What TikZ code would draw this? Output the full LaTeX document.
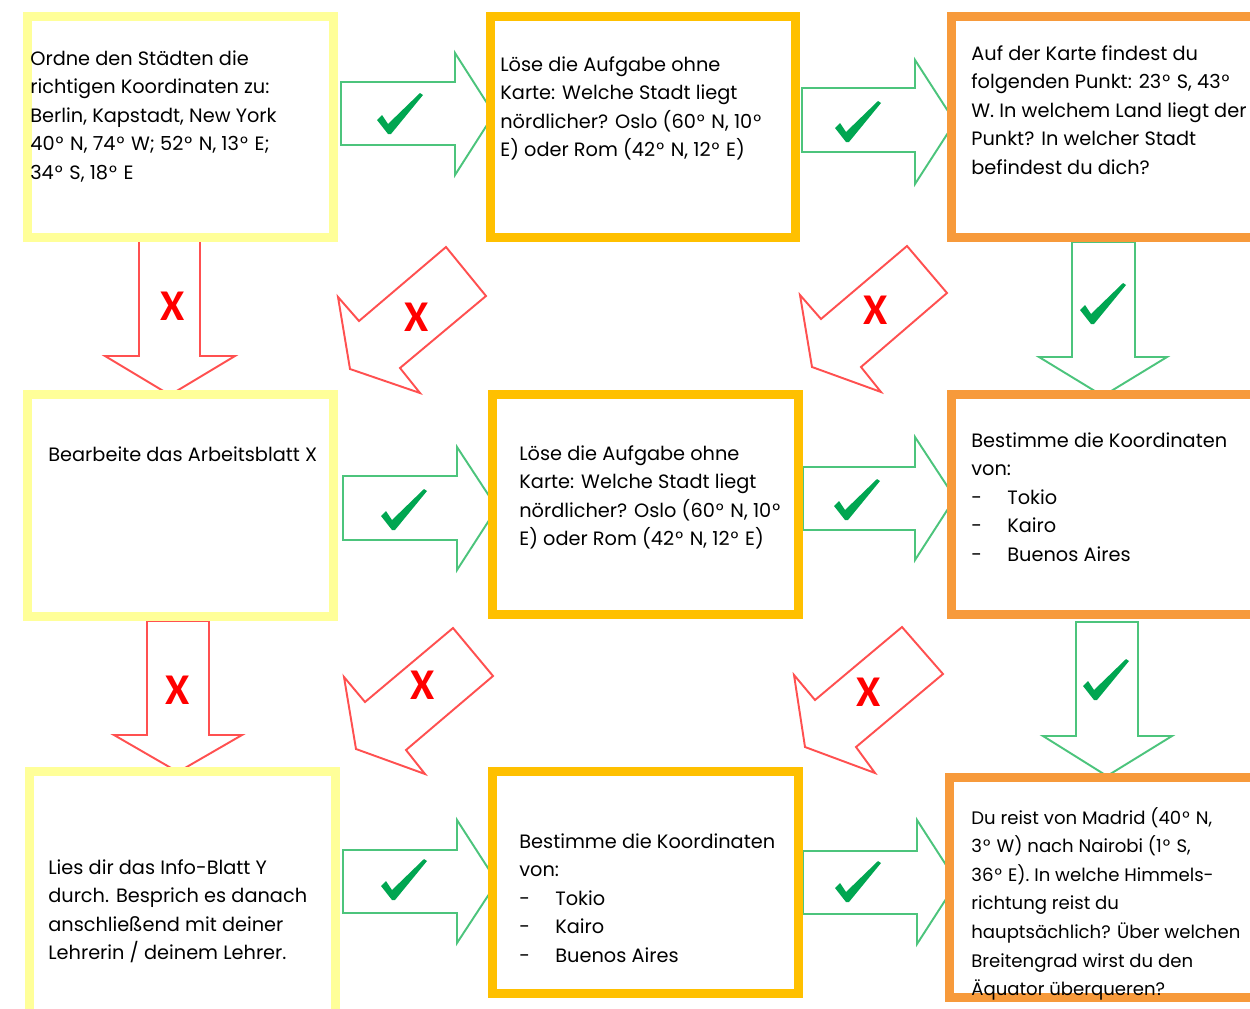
\documentclass[tikz,border=0pt]{standalone}
\usepackage{fontspec}
\setmainfont{Poppins}
\newfontfamily\xfont{Carlito}
\usetikzlibrary{fit}
\definecolor{ylw}{HTML}{FFFF99}
\definecolor{gld}{HTML}{FFC000}
\definecolor{org}{HTML}{F79A3B}
\definecolor{grn}{HTML}{4CC47C}
\definecolor{dgrn}{HTML}{00A651}
\definecolor{rdl}{HTML}{FF5050}
\definecolor{rdx}{HTML}{FF0000}
\newcommand\lns[1]{\begin{tabular}[t]{@{}l@{}}#1\end{tabular}}
\newcommand\itm[1]{\makebox[0.72cm][l]{-}#1}
\newcommand\dg{\kern0.6pt°\kern0.8pt}
\begin{document}
\begin{tikzpicture}[x=0.02cm,y=-0.02cm,
 boxbase/.style={draw, fill=white, line width=0.18cm, inner sep=0pt},
 ybox/.style={boxbase, draw=ylw},
 gbox/.style={boxbase, draw=gld},
 obox/.style={boxbase, draw=org},
 okarrow/.style={draw=grn, line width=1.1pt, fill=white},
 noarrow/.style={draw=rdl, line width=1.1pt, fill=white},
 txt/.style={anchor=base west, inner sep=0pt, font=\fontsize{11}{16.3}\selectfont},
 smalltxt/.style={txt, font=\fontsize{10.3}{16.3}\selectfont},
 xmark/.style={text=rdx, inner sep=0pt, font=\xfont\bfseries\fontsize{25}{25}\selectfont},
 okmark/.pic={\fill[dgrn] (-12,-13) -- (-7,-18) -- (-1,-9) -- (31,-40) -- (34,-38) -- (2,1) -- (-1,1) -- cycle;}
]
\useasboundingbox (0,0) rectangle (1250,1008);
\clip (0,0) rectangle (1250,1008);

% green arrows (correct)
\draw[okarrow] (341,82) -- (455,82) -- (455,53) -- (494,114) -- (455,175) -- (455,145) -- (341,145) -- cycle;
\draw[okarrow] (802,88) -- (915,88) -- (915,60) -- (955,122) -- (915,184) -- (915,152) -- (802,152) -- cycle;
\draw[okarrow] (343,476) -- (457,476) -- (457,447) -- (497,508) -- (457,570) -- (457,540) -- (343,540) -- cycle;
\draw[okarrow] (803,467) -- (915,467) -- (915,437) -- (955,498) -- (915,560) -- (915,530) -- (803,530) -- cycle;
\draw[okarrow] (343,850) -- (457,850) -- (457,820) -- (497,882) -- (457,943) -- (457,913) -- (343,913) -- cycle;
\draw[okarrow] (803,851) -- (917,851) -- (917,820) -- (957,882) -- (917,944) -- (917,914) -- (803,914) -- cycle;
\draw[okarrow] (1072,242) -- (1072,357) -- (1039,357) -- (1103,396) -- (1167,357) -- (1135,357) -- (1135,242) -- cycle;
\draw[okarrow] (1076,622) -- (1076,736) -- (1043,736) -- (1107,776) -- (1172,736) -- (1138,736) -- (1138,622) -- cycle;

% red arrows (wrong)
\draw[noarrow] (139,238) -- (139,356) -- (105,356) -- (170,395) -- (235,356) -- (200,356) -- (200,238) -- cycle;
\draw[noarrow] (147,621) -- (147,735) -- (114,735) -- (178,772) -- (242,735) -- (209,735) -- (209,621) -- cycle;
\draw[noarrow] (446,247) -- (486,296) -- (400,368) -- (420,393) -- (350,369) -- (338,297) -- (359,321) -- cycle;
\draw[noarrow] (907,246) -- (947,293) -- (861,367) -- (881,392) -- (812,367) -- (800,295) -- (821,319) -- cycle;
\draw[noarrow] (453,628) -- (493,676) -- (406,750) -- (425,774) -- (356,749) -- (344,677) -- (365,702) -- cycle;
\draw[noarrow] (902,627) -- (943,674) -- (856,747) -- (875,773) -- (805,747) -- (794,675) -- (815,700) -- cycle;

% boxes
\node[ybox, fit={(27.5,16.5) (333.5,237.5)}] (A) {};
\node[gbox, fit={(490.5,16.5) (795.5,237.5)}] (B) {};
\node[obox, fit={(951,16.5) (1262,237.5)}] (C) {};
\node[ybox, fit={(27.5,394) (333.5,616)}] (D) {};
\node[gbox, fit={(492.5,394.5) (798,614.5)}] (E) {};
\node[obox, fit={(951,394.5) (1262,614.5)}] (F) {};
\node[ybox, fit={(29.5,771.5) (335.5,1015)}] (G) {};
\node[gbox, fit={(492.5,771.5) (798,993.5)}] (H) {};
\node[obox, fit={(949,777) (1262,997.5)}] (I) {};

% texts
\node[txt] (tA) at (30,65) {\lns{Ordne den Städten die\\richtigen Koordinaten zu:\\Berlin, Kapstadt, New York\\40\dg{} N, 74\dg{} W; 52\dg{} N, 13\dg{} E;\\34\dg{} S, 18\dg{} E}};
\node[txt] (tB) at (500,71) {\lns{Löse die Aufgabe ohne\\Karte: Welche Stadt liegt\\nördlicher? Oslo (60\dg{} N, 10\dg{}\\E) oder Rom (42\dg{} N, 12\dg{} E)}};
\node[txt] (tC) at (971,60) {\lns{Auf der Karte findest du\\folgenden Punkt: 23\dg{} S, 43\dg{}\\W. In welchem Land liegt der\\Punkt? In welcher Stadt\\befindest du dich?}};
\node[txt] (tD) at (48,461) {Bearbeite das Arbeitsblatt X};
\node[txt] (tE) at (519,460) {\lns{Löse die Aufgabe ohne\\Karte: Welche Stadt liegt\\nördlicher? Oslo (60\dg{} N, 10\dg{}\\E) oder Rom (42\dg{} N, 12\dg{} E)}};
\node[txt] (tF) at (971,447) {\lns{Bestimme die Koordinaten\\von:\\\itm{Tokio}\\\itm{Kairo}\\\itm{Buenos Aires}}};
\node[txt] (tG) at (48,874) {\lns{Lies dir das Info-Blatt Y\\durch. Besprich es danach\\anschließend mit deiner\\Lehrerin / deinem Lehrer.}};
\node[txt] (tH) at (519,848) {\lns{Bestimme die Koordinaten\\von:\\\itm{Tokio}\\\itm{Kairo}\\\itm{Buenos Aires}}};
\node[smalltxt] (tI) at (971,824) {\lns{Du reist von Madrid (40\dg{} N,\\3\dg{} W) nach Nairobi (1\dg{} S,\\36\dg{} E). In welche Himmels-\\richtung reist du\\hauptsächlich? Über welchen\\Breitengrad wirst du den\\Äquator überqueren?}};

% marks
\pic at (389,133) {okmark};
\pic at (847,141) {okmark};
\pic at (393,529) {okmark};
\pic at (846,519) {okmark};
\pic at (393,899) {okmark};
\pic at (847,901) {okmark};
\pic at (1092,323) {okmark};
\pic at (1095,699) {okmark};

\node[xmark] (x1) at (173,306) {X};
\node[xmark] (x2) at (178,690) {X};
\node[xmark] (x3) at (417,317) {X};
\node[xmark] (x4) at (876,310) {X};
\node[xmark] (x5) at (423,685) {X};
\node[xmark] (x6) at (869,692) {X};
\end{tikzpicture}
\end{document}
